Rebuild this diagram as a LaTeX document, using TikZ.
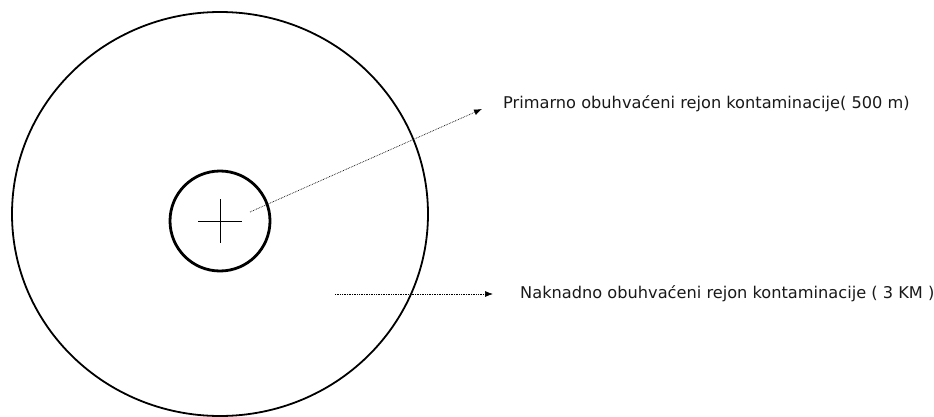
\documentclass[tikz,border=0pt]{standalone}
\usepackage{fontspec}
\setmainfont{DejaVu Sans}
\usetikzlibrary{arrows.meta}
\begin{document}
\begin{tikzpicture}[
    x=1pt, y=-1pt,
    zone/.style={line width=1.8pt},
    core/.style={circle, draw, line width=2.8pt, minimum size=100pt, inner sep=0pt},
    ptr/.style={densely dotted, line width=0.7pt, -{Latex[length=8pt,width=6pt]}},
    lbl/.style={anchor=west, inner sep=0pt, font=\fontsize{16.2}{19}\selectfont, text=black!90}
    ]
    \useasboundingbox (0,0) rectangle (934,417);

    \coordinate (C) at (220,214);
    \draw[zone] (C) ellipse [x radius=208, y radius=202];

    \node[core] (I) at (220,221) {};
    \draw[line width=0.7pt] (198,221) -- (242,221) (220,199) -- (220,243);

    \node[lbl] (P) at (503,104) {Primarno obuhvaćeni rejon kontaminacije( 500 m)};
    \node[lbl] (N) at (520,294) {Naknadno obuhvaćeni rejon kontaminacije ( 3 KM )};

    \coordinate (a) at (250,212);
    \coordinate (b) at (335,294);
    \coordinate (pt) at (482,109);
    \coordinate (nt) at (493,294);

    \draw[ptr] (a) -- (pt);
    \draw[ptr] (b) -- (nt);

\end{tikzpicture}
\end{document}
